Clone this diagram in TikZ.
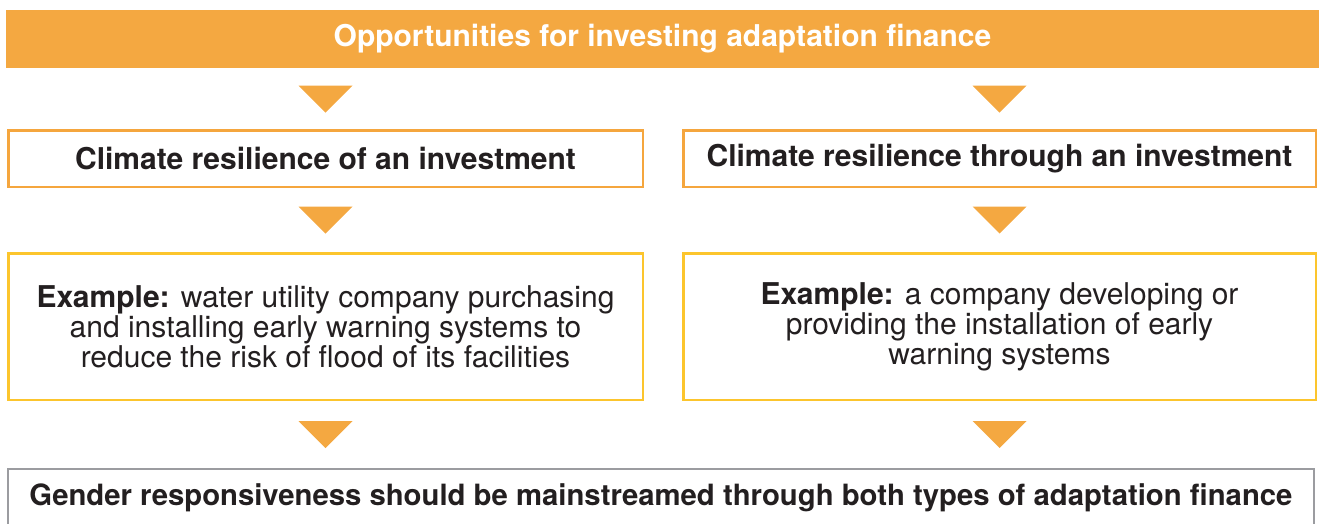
\documentclass[tikz,border=0pt]{standalone}
\usepackage{fontspec}
\setmainfont{TeX Gyre Heros}
\usetikzlibrary{calc}

\definecolor{barorange}{RGB}{244,168,65}
\definecolor{boxorange}{RGB}{245,166,62}
\definecolor{boxyellow}{RGB}{252,197,45}
\definecolor{boxgray}{RGB}{155,156,160}
\definecolor{textdark}{RGB}{35,31,32}

\tikzset{
  bigfont/.style={font=\fontsize{30}{30}\selectfont},
  headbar/.style={bigfont, font=\bfseries\fontsize{30}{30}\selectfont, fill=barorange, text=white,
    minimum width=1313, minimum height=58, inner sep=0, outer sep=0},
  kindbox/.style={bigfont, font=\bfseries\fontsize{30}{30}\selectfont, draw=boxorange, line width=2.5pt,
    text=textdark, minimum width=634.5, minimum height=56.5, inner sep=0, outer sep=0},
  examplebox/.style={bigfont, draw=boxyellow, line width=2.5pt, text=textdark, align=center,
    minimum width=634.5, minimum height=146.5, inner sep=0, outer sep=0},
  footbox/.style={font=\bfseries\fontsize{29.3}{30}\selectfont, draw=boxgray, line width=2pt,
    text=textdark, text height=22, text depth=12, minimum width=1306, minimum height=62,
    inner sep=0, outer sep=0},
  trifill/.style={fill=barorange}
}

% down pointing triangle half way between two points
\newcommand{\dtri}[2]{\fill[trifill] ($(#1)!0.5!(#2)$) ++(-27,-13.5) -- ++(54,0) -- ++(-27,27) -- cycle;}

\begin{document}
\begin{tikzpicture}[x=1pt, y=-1pt]
    \useasboundingbox (0,0) rectangle (1319,523);
    % Header
    \node[headbar] (head) at (662.5,39) {Opportunities for investing adaptation finance};
    % Two kinds
    \node[kindbox] (ofinv) at (325.5,158.5) {Climate resilience of an investment};
    \node[kindbox, minimum width=632.5] (thrinv) at (999.5,158.5) {Climate resilience through an investment};
    % Examples
    \node[examplebox] (exof) at (325.5,326.5) {\textbf{Example:} water utility company purchasing\\
        and installing early warning systems to\\ reduce the risk of flood of its facilities};
    \node[examplebox, minimum width=632.5] (exthr) at (999.5,326.5) {\textbf{Example:} a company developing or\\
        providing the installation of early\\ warning systems};
    % Footer (bottom edge runs off the page)
    \node[footbox] (gender) at (661,500.25) {Gender responsiveness should be mainstreamed through both types of adaptation finance};
    % Triangles
    \dtri{head.south -| ofinv.north}{ofinv.north}
    \dtri{head.south -| thrinv.north}{thrinv.north}
    \dtri{ofinv.south}{exof.north}
    \dtri{thrinv.south}{exthr.north}
    \dtri{exof.south}{gender.north -| exof.south}
    \dtri{exthr.south}{gender.north -| exthr.south}
\end{tikzpicture}
\end{document}
